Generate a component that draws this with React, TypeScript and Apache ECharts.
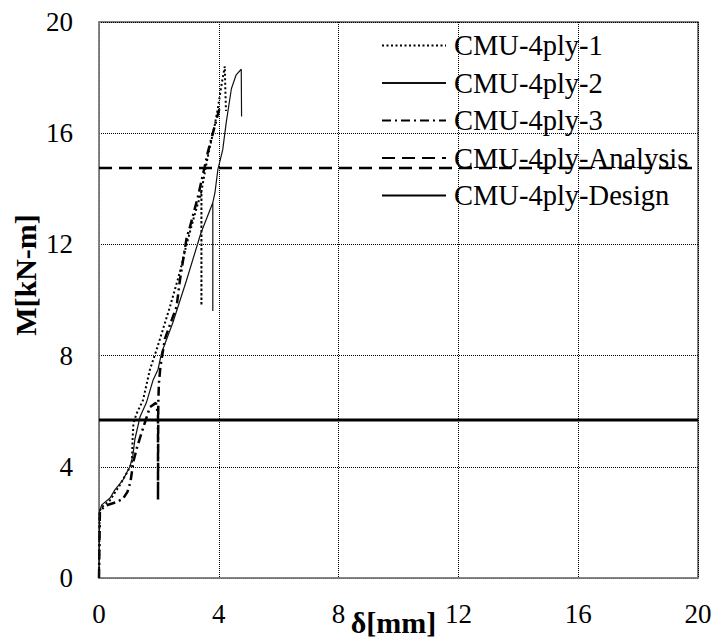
import React, { useEffect, useRef } from "react";
import * as echarts from "echarts";

const seriesNames = ["CMU-4ply-1", "CMU-4ply-2", "CMU-4ply-3", "CMU-4ply-Analysis", "CMU-4ply-Design"];

const d1 = [0, 0.02, 0.09, 0.37, 0.7, 0.92, 1.1, 1.12, 1.15, 1.25, 1.47, 1.7, 1.92, 2.37, 2.7, 2.9, 3.15, 3.42, 3.42, 3.42, 3.55, 3.7, 3.85, 3.97, 4.1, 4.2, 4.22, 4.24];
const m1 = [0, 2.4, 2.55, 2.8, 3.35, 3.77, 4.13, 4.96, 5.56, 5.9, 6.4, 7.5, 8.2, 9.76, 11.0, 11.9, 12.9, 13.9, 9.8, 13.9, 14.7, 15.5, 16.2, 16.9, 17.8, 18.4, 17.5, 16.8];

const d2 = [0, 0.02, 0.09, 0.37, 0.53, 0.8, 1.03, 1.13, 1.2, 1.37, 1.58, 1.8, 1.97, 2.09, 2.47, 2.92, 3.4, 3.8, 3.8, 3.8, 3.87, 3.97, 4.13, 4.25, 4.42, 4.58, 4.75, 4.76];
const m2 = [0, 2.4, 2.63, 2.88, 3.17, 3.53, 4.0, 4.4, 5.0, 5.8, 6.3, 7.1, 7.5, 8.1, 9.2, 10.7, 12.4, 13.5, 9.6, 13.5, 13.85, 14.7, 15.4, 16.4, 17.6, 18.1, 18.3, 16.6];

const d3 = [0, 0.03, 0.2, 0.55, 0.8, 0.95, 1.05, 1.15, 1.27, 1.43, 1.7, 1.9, 1.97, 1.97, 1.98, 2.0, 2.05, 2.2, 2.59, 2.7, 2.92, 3.03, 3.3, 3.53, 3.63, 3.85, 4.05];
const m3 = [0, 2.4, 2.6, 2.72, 2.85, 3.1, 3.45, 4.2, 4.7, 5.25, 6.15, 6.3, 5.9, 2.8, 6.3, 7.0, 7.6, 8.6, 9.76, 10.7, 12.2, 12.6, 13.7, 14.8, 15.3, 16.2, 17.0];

const analysisX = [0, 20];
const analysisM = [14.75, 14.75];
const designX = [0, 20];
const designM = [5.68, 5.68];

const xTicks = [0, 4, 8, 12, 16, 20];
const yTicks = [0, 4, 8, 12, 16, 20];

const FONT = "'Liberation Serif', 'Times New Roman', serif";

function pairs(xs: number[], ys: number[]) {
  return xs.map((x, i) => [x, ys[i]]);
}

export default function App() {
  const ref = useRef<HTMLDivElement>(null);
  useEffect(() => {
    document.body.style.margin = "0";
    const chart = echarts.init(ref.current!, null, { renderer: "svg" });
    const lineBase = { type: "line", showSymbol: false, symbol: "none", smooth: false, silent: true };
    chart.setOption({
      animation: false,
      backgroundColor: "#fff",
      grid: {
        left: 99, right: 15, top: 22, bottom: 64,
        show: true, borderColor: "#555", borderWidth: 1.5,
        containLabel: false, outerBoundsMode: "none",
      },
      legend: {
        orient: "vertical",
        left: 376,
        top: 26,
        itemWidth: 64,
        itemHeight: 10,
        itemGap: 8.5,
        data: seriesNames,
        itemStyle: { color: "transparent", borderWidth: 0, opacity: 0 },
        textStyle: { fontFamily: FONT, fontSize: 28.5, color: "#000", padding: [0, 0, 0, 3] },
      },
      xAxis: {
        type: "value",
        min: xTicks[0],
        max: xTicks[xTicks.length - 1],
        interval: 4,
        name: "δ[mm]",
        nameLocation: "middle",
        nameGap: 29,
        nameMoveOverlap: false,
        nameTextStyle: { fontFamily: FONT, fontSize: 30, fontWeight: "bold", color: "#000", padding: [0, 10, 0, 0] },
        axisLine: { show: true, lineStyle: { color: "#888", width: 1.5 } },
        axisTick: { show: false },
        axisLabel: { fontFamily: FONT, fontSize: 27, color: "#000", margin: 22 },
        splitLine: { show: true, lineStyle: { color: "#000", type: [1, 1], width: 1 } },
      },
      yAxis: {
        type: "value",
        min: yTicks[0],
        max: yTicks[yTicks.length - 1],
        interval: 4,
        axisLine: { show: true, lineStyle: { color: "#888", width: 1.5 } },
        axisTick: { show: false },
        axisLabel: { fontFamily: FONT, fontSize: 27, color: "#000", margin: 26 },
        splitLine: { show: true, lineStyle: { color: "#000", type: [1, 1], width: 1 } },
      },
      graphic: [
        {
          type: "text",
          x: 25,
          y: 275,
          rotation: Math.PI / 2,
          style: { text: "M[kN-m]", fontFamily: FONT, fontSize: 30, fontWeight: "bold", fill: "#000", align: "center", verticalAlign: "middle" },
        },
      ],
      series: [
        { ...lineBase, name: seriesNames[0], data: pairs(d1, m1), lineStyle: { color: "#000", width: 2, type: [2, 2.5] }, itemStyle: { color: "#000" }, z: 3 },
        { ...lineBase, name: seriesNames[1], data: pairs(d2, m2), lineStyle: { color: "#111", width: 1.2, type: "solid" }, itemStyle: { color: "#000" }, z: 4 },
        { ...lineBase, name: seriesNames[2], data: pairs(d3, m3), lineStyle: { color: "#000", width: 2.5, type: [9, 4, 2, 4] }, itemStyle: { color: "#000" }, z: 3 },
        { ...lineBase, name: seriesNames[3], data: pairs(analysisX, analysisM), lineStyle: { color: "#000", width: 2.5, type: [13, 7] }, itemStyle: { color: "#000" }, z: 2 },
        { ...lineBase, name: seriesNames[4], data: pairs(designX, designM), lineStyle: { color: "#000", width: 3, type: "solid" }, itemStyle: { color: "#000" }, z: 2 },
      ],
    });
    return () => chart.dispose();
  }, []);
  return <div ref={ref} style={{ position: "fixed", left: 0, top: 0, width: 713, height: 642 }} />;
}
